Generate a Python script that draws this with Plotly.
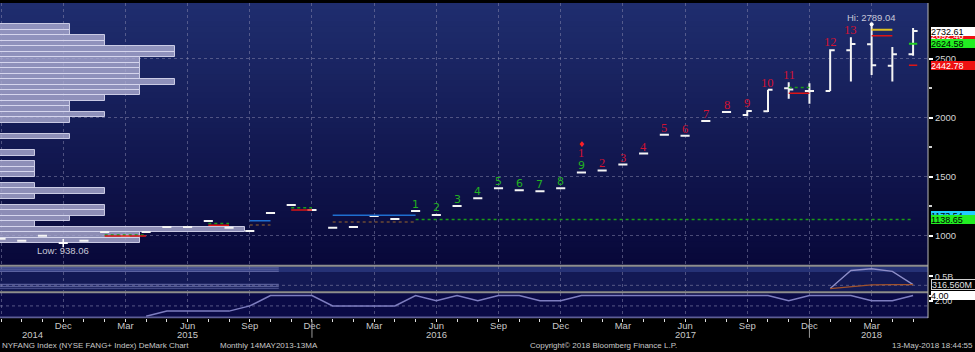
import plotly.graph_objects as go

# ---------------- data ----------------
months = ["2014-09", "2014-10", "2014-11", "2014-12",
          "2015-01", "2015-02", "2015-03", "2015-04", "2015-05", "2015-06",
          "2015-07", "2015-08", "2015-09", "2015-10", "2015-11", "2015-12",
          "2016-01", "2016-02", "2016-03", "2016-04", "2016-05", "2016-06",
          "2016-07", "2016-08", "2016-09", "2016-10", "2016-11", "2016-12",
          "2017-01", "2017-02", "2017-03", "2017-04", "2017-05", "2017-06",
          "2017-07", "2017-08", "2017-09", "2017-10", "2017-11", "2017-12",
          "2018-01", "2018-02", "2018-03", "2018-04", "2018-05"]
month_abbr = {"12": "Dec", "03": "Mar", "06": "Jun", "09": "Sep"}

opens = [975, 958, 1000, 938.06, 958, 1033, 1000, 1033, 1075, 1075, 1126, 1067, 1041, 1193, 1260, 1218,
         1067, 1075, 1167, 1142, 1209, 1176, 1251, 1318, 1402, 1385, 1377, 1402,
         1536, 1553, 1603, 1696, 1855, 1847, 1972, 2048, 2023, 2054, 2249, 2226,
         2226, 2570, 2620, 2439, 2536]
highs = [975, 958, 1000, 938.06, 958, 1033, 1000, 1033, 1075, 1075, 1126, 1067, 1041, 1193, 1260, 1218,
         1067, 1075, 1167, 1142, 1209, 1176, 1251, 1318, 1402, 1385, 1377, 1402,
         1536, 1553, 1603, 1696, 1855, 1847, 1972, 2048, 2062, 2235, 2299, 2291,
         2578, 2679, 2789.04, 2598, 2758]
lows = [975, 958, 1000, 938.06, 958, 1033, 1000, 1033, 1075, 1075, 1126, 1067, 1041, 1193, 1260, 1218,
        1067, 1075, 1167, 1142, 1209, 1176, 1251, 1318, 1402, 1385, 1377, 1402,
        1536, 1553, 1603, 1696, 1855, 1847, 1972, 2048, 2012, 2048, 2159, 2117,
        2226, 2305, 2360, 2305, 2523]
closes = [975, 958, 1000, 938.06, 958, 1033, 1000, 1033, 1075, 1075, 1126, 1067, 1041, 1193, 1260, 1218,
          1067, 1075, 1167, 1142, 1209, 1176, 1251, 1318, 1402, 1385, 1377, 1402,
          1536, 1553, 1603, 1696, 1855, 1847, 1972, 2048, 2056, 2235, 2238, 2226,
          2570, 2623, 2444, 2536, 2732.61]

# TD setup (green) and countdown (red) counts
setup_months = ["2016-05", "2016-06", "2016-07", "2016-08", "2016-09", "2016-10", "2016-11", "2016-12", "2017-01"]
setup_counts = [1, 2, 3, 4, 5, 6, 7, 8, 9]
countdown_months = ["2017-01", "2017-02", "2017-03", "2017-04", "2017-05", "2017-06", "2017-07",
                    "2017-08", "2017-09", "2017-10", "2017-11", "2018-01", "2018-02"]
countdown_counts = [1, 2, 3, 4, 5, 6, 7, 8, 9, 10, 11, 12, 13]
arrow_months = ["2017-01"]

# TD lines: (start month, end month, level, kind)
td_lines = [
    ("2015-02", "2015-04", 1006, "green"), ("2015-02", "2015-04", 998, "red"),
    ("2015-07", "2015-08", 1103, "green"), ("2015-07", "2015-08", 1090, "red"),
    ("2015-09", "2015-10", 1128, "blue"), ("2015-09", "2015-10", 1092, "brown"),
    ("2015-11", "2015-12", 1237, "green"), ("2015-11", "2015-12", 1218, "red"),
    ("2016-01", "2016-05", 1173.5, "blue"), ("2016-01", "2016-05", 1117, "brown"),
    ("2016-05", "2018-05", 1138.65, "green"),
    ("2017-11", "2017-12", 2255, "green"), ("2017-11", "2017-12", 2207, "red"),
    ("2018-03", "2018-04", 2743, "yellow"), ("2018-03", "2018-04", 2692.46, "red"),
    ("2018-05", "2018-05", 2624.58, "greensolid"), ("2018-05", "2018-05", 2442.78, "red"),
]

# volume-at-price profile: 40 bins between low and high, counts top -> bottom
profile_hi = 2789.04
profile_lo = 938.06
profile_counts = [2, 2, 3, 3, 5, 5, 4, 4, 4, 4, 5, 4, 4, 3, 2, 2, 3, 2, 0, 0,
                  2, 0, 0, 1, 0, 1, 1, 1, 0, 1, 3, 1, 0, 3, 3, 2, 1, 7, 4, 4]

# volume panel (millions)
vol_months = ["2018-01", "2018-02", "2018-03", "2018-04", "2018-05"]
vol_values = [228, 632, 670, 610, 316.56]
vol_avg = [228, 272, 312, 316.3, 316.56]
vol_stripes = [692, 648, 611, 323, 279, 235]

# lower indicator panel
ind_months = months[7:]
ind_values = [-4, -2, -2, -2, -2, 0, 4, 4, 4, 0, 0, 0, 0, 4, 2, 4, 2, 4, 4, 2, 2,
              4, 4, 4, 4, 4, 4, 4, 4, 4, 4, 2, 4, 4, 4, 2, 2, 4]

# right-side value boxes: (axis, value, text, bg, fg)
value_boxes = [
    ("y", 2692.46, "2692.46", "#ee1111", "#ffffff"),
    ("y", 2732.61, "2732.61", "#ffffff", "#000000"),
    ("y", 2624.58, "2624.58", "#22ee22", "#000000"),
    ("y", 2442.78, "2442.78", "#ee1111", "#ffffff"),
    ("y", 1173.5, "1173.54", "#22ccff", "#000000"),
    ("y", 1138.65, "1138.65", "#22ee22", "#000000"),
    ("y2", 316.56, "316.560M", "#000000", "#e0e0e0"),
    ("y3", 4, "4.00", "#ffffff", "#000000"),
]

# ---------------- geometry / styling ----------------
W, H = 975, 352
MR, MB = 47, 34
PW, PH = W - MR, H - MB
X_LO, X_HI = -0.05, 44.72
FONT = "Liberation Sans"
idx = {m: i for i, m in enumerate(months)}
xi = list(range(len(months)))


def py(px):
    return (PH - px) / PH


fig = go.Figure()

# volume profile (horizontal bars)
nb = len(profile_counts)
bin_h = (profile_hi - profile_lo) / nb
unit = 35 * (X_HI - X_LO) / PW
pc_y = [profile_hi - (k + 0.5) * bin_h for k in range(nb) if profile_counts[k] > 0]
pc_x = [profile_counts[k] * unit for k in range(nb) if profile_counts[k] > 0]
fig.add_trace(go.Bar(orientation="h", y=pc_y, x=pc_x, base=X_LO, width=bin_h,
                     marker=dict(color="rgba(170,170,208,0.82)",
                                 line=dict(color="rgba(215,215,238,0.9)", width=1)),
                     xaxis="x", yaxis="y", hoverinfo="skip"))

# TD lines
styles = {"green": dict(color="#1a9a1a", width=1.5, dash="dot"),
          "greensolid": dict(color="#22cc22", width=2),
          "red": dict(color="#dd1515", width=1.5),
          "blue": dict(color="#1f6fd0", width=1.5),
          "brown": dict(color="#6b4a35", width=1.5, dash="dot"),
          "yellow": dict(color="#e0c020", width=2)}
for m0, m1, lvl, kind in td_lines:
    a, b = idx[m0], idx[m1]
    if a == b:
        a, b = a - 0.2, b + 0.2
    fig.add_trace(go.Scatter(x=[a, b], y=[lvl, lvl], mode="lines", line=styles[kind],
                             xaxis="x", yaxis="y", hoverinfo="skip"))

# OHLC bars
fig.add_trace(go.Ohlc(x=xi, open=opens, high=highs, low=lows, close=closes,
                      increasing=dict(line=dict(color="#f4f4f4", width=2)),
                      decreasing=dict(line=dict(color="#f4f4f4", width=2)),
                      tickwidth=0.22, xaxis="x", yaxis="y", hoverinfo="skip"))

# high / low markers
hi_i = highs.index(max(highs))
lo_i = lows.index(min(lows))
fig.add_trace(go.Scatter(x=[hi_i], y=[highs[hi_i]], mode="markers",
                         marker=dict(color="white", size=4), xaxis="x", yaxis="y", hoverinfo="skip"))
fig.add_trace(go.Scatter(x=[lo_i], y=[lows[lo_i]], mode="markers",
                         marker=dict(color="white", size=6, symbol="cross-thin",
                                     line=dict(color="white", width=1.5)),
                         xaxis="x", yaxis="y", hoverinfo="skip"))

# volume panel
vx = [idx[m] for m in vol_months]
for s in vol_stripes:
    fig.add_trace(go.Scatter(x=[X_LO, 13.4], y=[s, s], mode="lines",
                             line=dict(color="rgba(110,115,175,0.75)", width=1.2),
                             xaxis="x", yaxis="y2", hoverinfo="skip"))
fig.add_trace(go.Scatter(x=vx, y=vol_values, mode="lines", line=dict(color="#8e8ec8", width=1.3),
                         xaxis="x", yaxis="y2", hoverinfo="skip"))
fig.add_trace(go.Scatter(x=vx, y=vol_avg, mode="lines", line=dict(color="#a0522d", width=1.3),
                         xaxis="x", yaxis="y2", hoverinfo="skip"))

# indicator panel
fig.add_trace(go.Scatter(x=[idx[m] for m in ind_months], y=ind_values, mode="lines",
                         line=dict(color="#7e7ec0", width=1.5),
                         xaxis="x", yaxis="y3", hoverinfo="skip"))

# ---------------- annotations ----------------
ann = []
for m, c in zip(setup_months, setup_counts):
    i = idx[m]
    ann.append(dict(x=i, y=highs[i], xref="x", yref="y", yshift=7, yanchor="middle",
                    text=str(c), showarrow=False,
                    font=dict(family="DejaVu Sans", size=11, color="#22b022")))
for m, c in zip(countdown_months, countdown_counts):
    i = idx[m]
    shift = 19 if m in setup_months else 7
    ann.append(dict(x=i, y=highs[i], xref="x", yref="y", yshift=shift, yanchor="middle",
                    text=str(c), showarrow=False,
                    font=dict(family="Liberation Serif", size=12.5, color="#d21232")))
for m in arrow_months:
    i = idx[m]
    ann.append(dict(x=i, y=highs[i], xref="x", yref="y", yshift=28, yanchor="middle",
                    text="♦", showarrow=False,
                    font=dict(family="DejaVu Sans", size=8, color="#ff2020")))

ann.append(dict(x=hi_i, y=highs[hi_i], xref="x", yref="y", yshift=7, yanchor="middle",
                text=f"Hi: {highs[hi_i]:.2f}", showarrow=False,
                font=dict(family=FONT, size=9.5, color="#c8c8d8")))
ann.append(dict(x=lo_i, y=lows[lo_i], xref="x", yref="y", yshift=-7, yanchor="middle",
                text=f"Low: {lows[lo_i]:.2f}", showarrow=False,
                font=dict(family=FONT, size=9.5, color="#c8c8d8")))

for ax, v, t, bg, fg in value_boxes:
    ann.append(dict(xref="paper", x=1, xanchor="left", xshift=3, yref=ax, y=v, yanchor="middle",
                    text=t, showarrow=False, align="left", valign="middle", width=44, height=9,
                    font=dict(family=FONT, size=9, color=fg), bgcolor=bg,
                    bordercolor="#d0d0d0" if bg == "#000000" else bg,
                    borderwidth=1 if bg == "#000000" else 0, borderpad=0))

# year labels
years = sorted(set(m[:4] for m in months))
for yr in years:
    ms = [i for i, m in enumerate(months) if m.startswith(yr)]
    pos = idx[yr + "-06"] if (yr + "-06") in idx else (ms[0] + ms[-1]) / 2
    ann.append(dict(x=pos, y=py(335), xref="x", yref="paper", yanchor="middle",
                    text=yr, showarrow=False, font=dict(family=FONT, size=9.5, color="#c8c8c8")))

# footer
foot = dict(family=FONT, size=8, color="#c8c8c8")
ann += [
    dict(xref="paper", x=0, xanchor="left", yref="paper", y=py(346), yanchor="middle",
         text="NYFANG Index (NYSE FANG+ Index) DeMark Chart", showarrow=False, font=foot),
    dict(xref="paper", x=218 / PW, xanchor="left", yref="paper", y=py(346), yanchor="middle",
         text="Monthly 14MAY2013-13MA", showarrow=False, font=foot),
    dict(xref="paper", x=528 / PW, xanchor="left", yref="paper", y=py(346), yanchor="middle",
         text="Copyright© 2018 Bloomberg Finance L.P.", showarrow=False, font=foot),
    dict(xref="paper", x=W / PW, xanchor="right", yref="paper", y=py(346), yanchor="middle",
         text="13-May-2018 18:44:55", showarrow=False, font=foot),
]

# ---------------- shapes (background & separators) ----------------
TOPC = (31, 45, 110)
BOTC = (8, 8, 58)
shapes = []
NBAND = 44
for k in range(NBAND):
    t = k / (NBAND - 1)
    c = tuple(round(TOPC[j] + (BOTC[j] - TOPC[j]) * t) for j in range(3))
    y_top = k * 265 / NBAND
    y_bot = (k + 1) * 265 / NBAND + 0.6
    shapes.append(dict(type="rect", xref="paper", yref="paper", x0=0, x1=1,
                       y0=py(y_bot), y1=py(y_top), fillcolor=f"rgb({c[0]},{c[1]},{c[2]})",
                       line=dict(width=0), layer="below"))
shapes.append(dict(type="rect", xref="paper", yref="paper", x0=0, x1=1, y0=py(291), y1=py(266),
                   fillcolor="rgb(19,25,84)", line=dict(width=0), layer="below"))
shapes.append(dict(type="rect", xref="paper", yref="paper", x0=0, x1=1, y0=py(271.5), y1=py(266),
                   fillcolor="rgb(38,50,118)", line=dict(width=0), layer="below"))
shapes.append(dict(type="rect", xref="paper", yref="paper", x0=0, x1=1, y0=0, y1=py(292),
                   fillcolor="rgb(10,10,70)", line=dict(width=0), layer="below"))
for y0, y1, col in [(264.3, 266.3, "#8e8e8e"), (291.0, 293.0, "#8e8e8e"), (316.6, 318.2, "#5c5c96")]:
    shapes.append(dict(type="rect", xref="paper", yref="paper", x0=0, x1=1, y0=py(y1), y1=py(y0),
                       fillcolor=col, line=dict(width=0), layer="above"))
shapes.append(dict(type="line", xref="paper", yref="paper", x0=1, x1=1, y0=0, y1=1,
                   line=dict(color="#b8b8b8", width=1), layer="above"))
# dotted level lines in lower panels
shapes.append(dict(type="line", xref="paper", yref="y2", x0=0, x1=1, y0=300, y1=300,
                   line=dict(color="rgba(140,140,175,0.55)", width=1, dash="dot"), layer="below"))
shapes.append(dict(type="line", xref="paper", yref="y3", x0=0, x1=1, y0=0, y1=0,
                   line=dict(color="rgba(140,140,175,0.6)", width=1, dash="dot"), layer="below"))
# year dividers in the date strip
for m in ["2015-12", "2017-12"]:
    shapes.append(dict(type="line", xref="x", yref="paper", x0=idx[m], x1=idx[m],
                       y0=py(338), y1=py(320), line=dict(color="#9a9a9a", width=1)))

# ---------------- axes ----------------
grid = dict(showgrid=True, gridcolor="rgba(140,140,175,0.5)", gridwidth=1, griddash="dot")
q_idx = [i for i, m in enumerate(months) if m[5:] in month_abbr]
q_txt = [month_abbr[months[i][5:]] for i in q_idx]

fig.update_layout(
    width=W, height=H, margin=dict(l=0, r=MR, t=0, b=MB, pad=0),
    paper_bgcolor="#000000", plot_bgcolor=f"rgb{TOPC}",
    showlegend=False, hovermode=False, bargap=0,
    shapes=shapes, annotations=ann,
    xaxis=dict(range=[X_LO, X_HI], anchor="y3", tickmode="array", tickvals=q_idx, ticktext=q_txt,
               ticks="", tickfont=dict(family=FONT, size=9.5, color="#c8c8c8"),
               showline=False, zeroline=False, rangeslider=dict(visible=False),
               minor=dict(ticks="outside", ticklen=3, tickcolor="#e0e0e0", tick0=0, dtick=1,
                          showgrid=False),
               **grid),
    yaxis=dict(domain=[py(265), 1], range=[748.5, 2969.8], side="right", anchor="x",
               tickmode="array", tickvals=[1000, 1500, 2000, 2500],
               ticktext=["1000", "1500", "2000", "2500"],
               ticks="outside", ticklen=4, tickcolor="#ffffff", tickwidth=2,
               minor=dict(ticks="outside", ticklen=3, tickcolor="#d0d0d0", tickvals=[1250, 1750, 2250],
                          showgrid=False),
               tickfont=dict(family=FONT, size=9.5, color="#d4d4d4"),
               zeroline=False, showline=False, **grid),
    yaxis2=dict(domain=[py(291), py(266)], range=[168, 721], side="right", anchor="x",
                tickmode="array", tickvals=[500], ticktext=["0.5B"],
                ticks="outside", ticklen=4, tickcolor="#ffffff", tickwidth=2,
                tickfont=dict(family=FONT, size=9, color="#d4d4d4"),
                showgrid=False, zeroline=False, showline=False),
    yaxis3=dict(domain=[0, py(293)], range=[-4.648, 4.876], side="right", anchor="x",
                tickmode="array", tickvals=[2, 4], ticktext=["2.00", "4.00"],
                ticks="outside", ticklen=4, tickcolor="#ffffff", tickwidth=2,
                tickfont=dict(family=FONT, size=9, color="#d4d4d4"),
                showgrid=False, zeroline=False, showline=False),
)

fig.write_html("out.html", config={"displayModeBar": False})
